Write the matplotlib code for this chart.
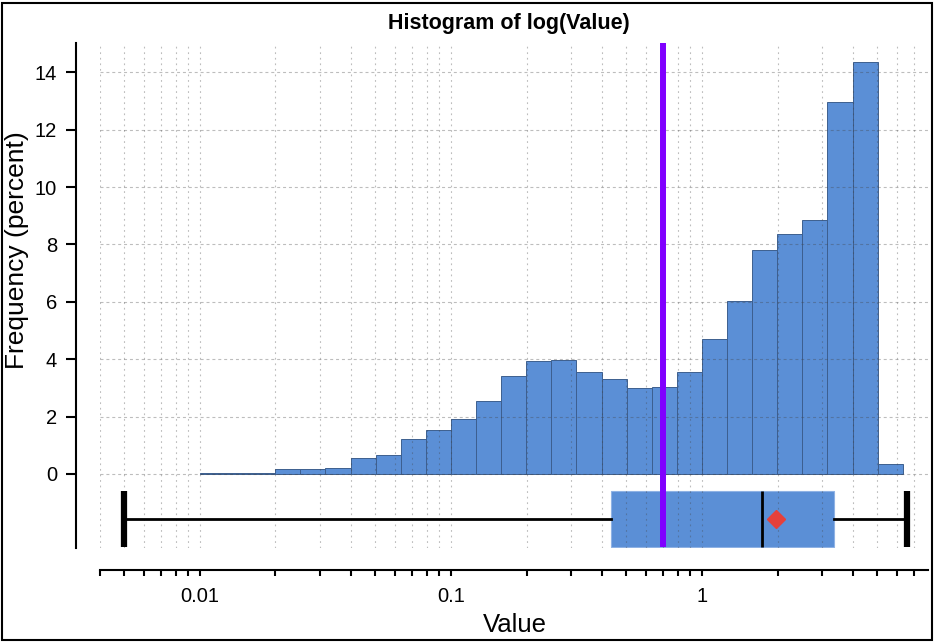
import numpy as np
import matplotlib
matplotlib.use("Agg")
import matplotlib.pyplot as plt
from matplotlib import font_manager
from matplotlib.patches import Rectangle
from matplotlib.ticker import FixedLocator, FixedFormatter, NullLocator

plt.rcParams['font.family'] = ['Liberation Sans', 'DejaVu Sans']

# histogram of log10(value), bins 0.1 decade wide from 0.01
log_edges = np.linspace(-2.0, 0.8, 29)
freq_pct = [0.05, 0.03, 0.02, 0.17, 0.17, 0.21, 0.56, 0.65, 1.21, 1.53,
            1.90, 2.55, 3.41, 3.95, 3.98, 3.55, 3.30, 3.00, 3.04, 3.54,
            4.69, 6.04, 7.80, 8.37, 8.85, 12.95, 14.37, 0.36]

# box plot summary
whisk_lo, box_q1, box_med, box_q3, whisk_hi = 0.005, 0.433, 1.73, 3.36, 6.55
mean_val = 1.97
ref_line = 0.7

x_ticks = [0.004, 0.005, 0.006, 0.007, 0.008, 0.009,
           0.01, 0.02, 0.03, 0.04, 0.05, 0.06, 0.07, 0.08, 0.09,
           0.1, 0.2, 0.3, 0.4, 0.5, 0.6, 0.7, 0.8, 0.9,
           1, 2, 3, 4, 5, 6, 7]
x_labels = {0.01: "0.01", 0.1: "0.1", 1: "1"}
y_ticks = [0, 2, 4, 6, 8, 10, 12, 14]

bar_color = '#5b8fd6'
box_y0, box_y1 = -2.544, -0.593
box_mid = (box_y0 + box_y1) / 2

fig = plt.figure(figsize=(9.34, 6.43), dpi=100)
ax = fig.add_axes([100/934, 95/643, 828/934, 505/643])
ax.set_xscale('log')
ax.set_xlim(0.004, 7.95)
ax.set_ylim(-2.58, 15.02)

edges = 10 ** log_edges
ax.bar(edges[:-1], freq_pct, width=np.diff(edges), align='edge',
       color=bar_color, edgecolor='#3d5f8f', linewidth=0.7, zorder=1)

# box plot under the histogram
ax.add_patch(Rectangle((box_q1, box_y0), box_q3 - box_q1, box_y1 - box_y0,
                       facecolor=bar_color, edgecolor='#8fb2e4', linewidth=0.8, zorder=1))
ax.plot([whisk_lo, box_q1], [box_mid, box_mid], color='black', lw=2, zorder=4)
ax.plot([box_q3, whisk_hi], [box_mid, box_mid], color='black', lw=2, zorder=4)
for w in (whisk_lo, whisk_hi):
    ax.plot([w, w], [box_y0, box_y1], color='black', lw=4.5, solid_capstyle='butt', zorder=4)
ax.plot([box_med, box_med], [box_y0, box_y1], color='black', lw=2, solid_capstyle='butt', zorder=4)
ax.plot([mean_val], [box_mid], marker='D', color='#e5403b', markersize=9, linestyle='none', zorder=5)
ax.plot([ref_line, ref_line], [box_y0, 15.02], color='#8000ff', lw=4.3,
        solid_capstyle='butt', zorder=4, clip_on=False)

# axes, ticks, grid
ax.xaxis.set_major_locator(FixedLocator(x_ticks))
ax.xaxis.set_major_formatter(FixedFormatter([x_labels.get(t, "") for t in x_ticks]))
ax.xaxis.set_minor_locator(NullLocator())
ax.set_yticks(y_ticks)

ax.set_axisbelow(False)
ax.xaxis.grid(True, color='#444444', alpha=0.35, linewidth=0.8, linestyle=(0, (1.6, 3.4)))
ax.yaxis.grid(True, color='#444444', alpha=0.35, linewidth=0.8, linestyle=(0, (2.7, 2.6)))

for s in ('top', 'right'):
    ax.spines[s].set_visible(False)
ax.spines['left'].set_position(('outward', 17))
ax.spines['bottom'].set_position(('outward', 16))
ax.spines['left'].set_linewidth(1.5)
ax.spines['bottom'].set_linewidth(1.5)
ax.tick_params(axis='y', length=7, width=1.5, labelsize=14.5, pad=7)
ax.tick_params(axis='x', length=4.3, width=1.5, labelsize=14.5, pad=8)

# titles
try:
    font_manager.findfont(font_manager.FontProperties(family='Liberation Sans Narrow', weight='bold'),
                          fallback_to_default=False)
    title_family, title_size = 'Liberation Sans Narrow', 18
except ValueError:
    title_family, title_size = 'Liberation Sans', 15.5

fig.text(509/934, 1 - 28.5/643, "Histogram of log(Value)", ha='center', va='baseline',
         fontsize=title_size, fontweight='bold', family=[title_family, 'DejaVu Sans'])
fig.text(515/934, 1 - 632/643, "Value", ha='center', va='baseline', fontsize=18.5)
fig.text(17.5/934, 1 - 250/643, "Frequency (percent)", ha='center', va='center',
         rotation=90, fontsize=19)

fig.add_artist(Rectangle((1.5/934, 3/643), 930/934, 637/643, transform=fig.transFigure,
                         fill=False, edgecolor='black', linewidth=1.5))

fig.savefig("out.png", dpi=100)
